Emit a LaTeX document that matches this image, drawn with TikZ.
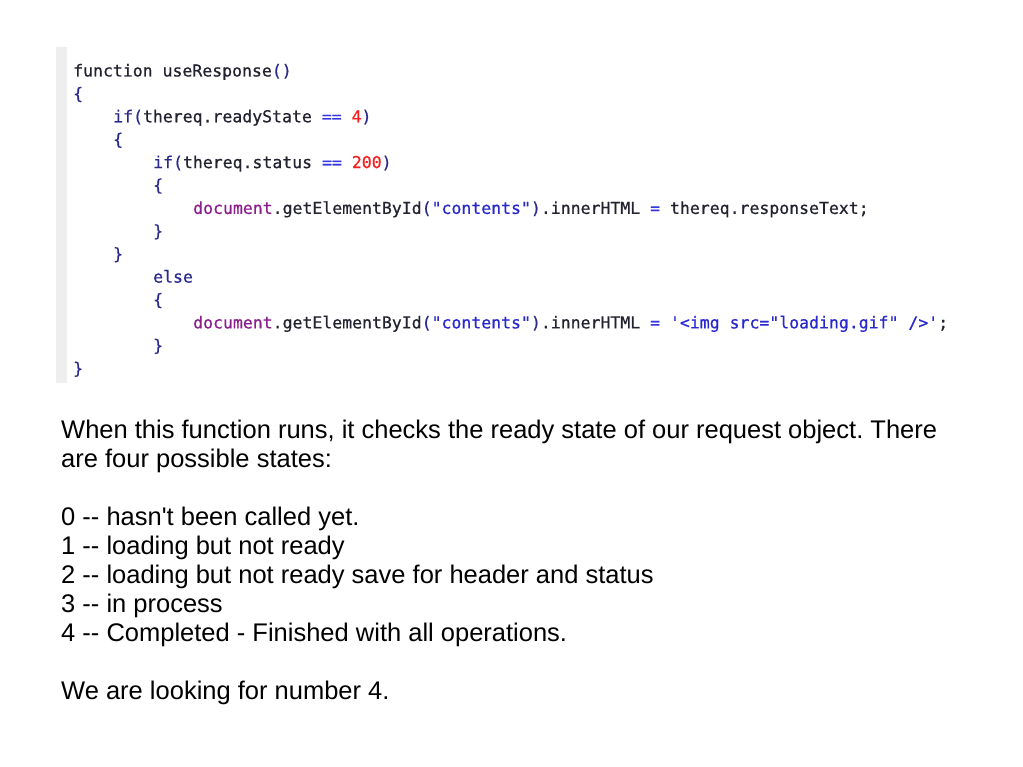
\documentclass[tikz,border=0pt]{standalone}
\usepackage{fontspec}
\usetikzlibrary{positioning}
\newfontfamily\bodyfont{Liberation Sans}
\newfontfamily\codefont[FakeBold=0.6]{DejaVu Sans Mono}
\definecolor{plaincol}{RGB}{34,34,48}
\definecolor{keycol}{RGB}{42,42,140}
\definecolor{opcol}{RGB}{52,52,225}
\definecolor{numcol}{RGB}{250,30,30}
\definecolor{objcol}{RGB}{140,30,140}
\definecolor{strcol}{RGB}{40,40,205}
\definecolor{guttercol}{RGB}{238,238,238}
\newcommand{\kwd}[1]{\textcolor{keycol}{#1}}
\newcommand{\opr}[1]{\textcolor{opcol}{#1}}
\newcommand{\nmb}[1]{\textcolor{numcol}{#1}}
\newcommand{\obj}[1]{\textcolor{objcol}{#1}}
\newcommand{\strg}[1]{\textcolor{strcol}{#1}}
\frenchspacing

\begin{document}
\begin{tikzpicture}[
			x=1pt,
			y=-1pt,
			codeline/.style={
				anchor=base west,
				inner sep=0pt,
				font=\codefont\fontsize{16.5}{20}\selectfont,
				text=plaincol
			},
			bodyline/.style={
				anchor=base west,
				inner sep=0pt,
				font=\bodyfont\fontsize{25.5}{30}\selectfont,
				text=black
			}
			]
			\useasboundingbox[fill=white] (0,0) rectangle (1023,767);
			
			% Gutter
			\fill[guttercol] (56,47) rectangle (67,383);
			
			% Code
			\node[codeline] (c0) at (73,76.5) {function useResponse\kwd{()}};
			\node[codeline] (c1) at (73,99.4) {\kwd{\{}};
			\node[codeline] (c2) at (113,122.3) {\kwd{if(}thereq.readyState \opr{==} \nmb{4}\kwd{)}};
			\node[codeline] (c3) at (113,145.2) {\kwd{\{}};
			\node[codeline] (c4) at (153,168.1) {\kwd{if(}thereq.status \opr{==} \nmb{200}\kwd{)}};
			\node[codeline] (c5) at (153,191) {\kwd{\{}};
			\node[codeline] (c6) at (193,213.9) {\obj{document}.getElementById\kwd{(}\strg{"contents"}\kwd{)}.innerHTML \opr{=} thereq.responseText;};
			\node[codeline] (c7) at (153,236.8) {\kwd{\}}};
			\node[codeline] (c8) at (113,259.7) {\kwd{\}}};
			\node[codeline] (c9) at (153,282.6) {\kwd{else}};
			\node[codeline] (c10) at (153,305.5) {\kwd{\{}};
			\node[codeline] (c11) at (193,328.4) {\obj{document}.getElementById\kwd{(}\strg{"contents"}\kwd{)}.innerHTML \opr{=} \strg{'<img src="loading.gif" />'};};
			\node[codeline] (c12) at (153,351.3) {\kwd{\}}};
			\node[codeline] (c13) at (73,374.2) {\kwd{\}}};
			
			% Text
			\node[bodyline] (t0) at (61,438.5) {When this function runs, it checks the ready state of our request object. There};
			\node[bodyline] (t1) at (61,467.5) {are four possible states:};
			\node[bodyline] (t2) at (61,525.5) {0 -- hasn't been called yet.};
			\node[bodyline] (t3) at (61,554.5) {1 -- loading but not ready};
			\node[bodyline] (t4) at (61,583.5) {2 -- loading but not ready save for header and status};
			\node[bodyline] (t5) at (61,612.5) {3 -- in process};
			\node[bodyline] (t6) at (61,641.5) {4 -- Completed - Finished with all operations.};
			\node[bodyline] (t7) at (61,699.5) {We are looking for number 4.};
		\end{tikzpicture}
\end{document}
